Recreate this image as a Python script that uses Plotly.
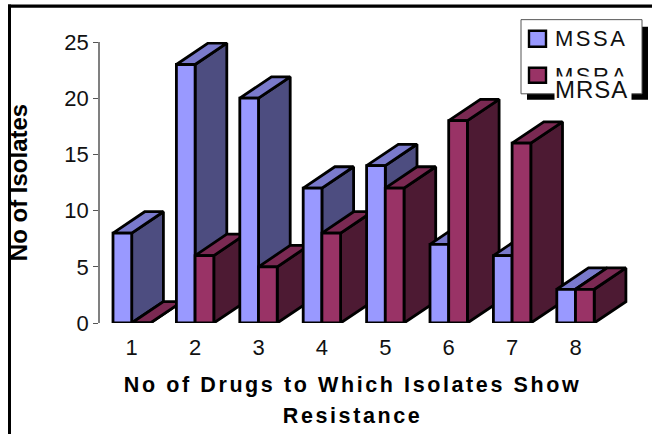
import plotly.graph_objects as go

categories = [1, 2, 3, 4, 5, 6, 7, 8]
mssa = [8, 23, 20, 12, 14, 7, 6, 3]
mrsa = [0, 6, 5, 8, 12, 18, 16, 3]
y_ticks = [0, 5, 10, 15, 20, 25]

BAR_W = 0.295
DEPTH_X = 0.5
DEPTH_Y = 1.9
MSSA_COL = ("#9999FF", "#4D4D80", "#7A7ACC")
MRSA_COL = ("#993366", "#4D1A33", "#7A2952")
LINE_W = 2.8

fig = go.Figure()


def face(xs, ys, color):
    fig.add_trace(go.Scatter(
        x=xs + xs[:1], y=ys + ys[:1], mode="lines", fill="toself", fillcolor=color,
        line=dict(color="black", width=LINE_W), cliponaxis=False,
        showlegend=False, hoverinfo="skip",
    ))


def box(x0, v, cols):
    x1 = x0 + BAR_W
    face([x1, x1 + DEPTH_X, x1 + DEPTH_X, x1], [0, DEPTH_Y, v + DEPTH_Y, v], cols[1])
    face([x0, x1, x1 + DEPTH_X, x0 + DEPTH_X], [v, v, v + DEPTH_Y, v + DEPTH_Y], cols[2])
    face([x0, x1, x1, x0], [0, 0, v, v], cols[0])


for c, a, b in zip(categories, mssa, mrsa):
    box(c - BAR_W, a, MSSA_COL)
    box(c, b, MRSA_COL)

FONT = "Liberation Sans"
PLOT_W = 545  # plot area runs from x=100 to x=645 so the last box's depth is not clipped
UNIT = 63.4


def px(x):
    return (x - 100) / PLOT_W


def py(y):
    return (322.7 - y) / 280.4


def rect(x0, y0, x1, y1, fill, line=None, w=0):
    return dict(type="rect", xref="paper", yref="paper", x0=px(x0), x1=px(x1), y0=py(y0), y1=py(y1),
                fillcolor=fill, line=dict(color=line or fill, width=w), layer="above")


shapes = [
    rect(8, 5, 652, 8, "black"),
    rect(8, 5, 11, 434, "black"),
    rect(527, 27, 648, 100, "black"),
    rect(521, 20, 642, 94, "white", "#555555", 1),
    rect(529, 31, 546, 47, "#9999FF", "black", 2.4),
    rect(529, 68, 546, 83, "#993366", "black", 2.4),
]


def note(text, x, y, size, bg=None, width=None, height=None):
    return dict(text=text, xref="paper", yref="paper", x=px(x), y=py(y), xanchor="left", yanchor="middle",
                showarrow=False, font=dict(family=FONT, size=size, color="#111111"), align="left",
                bgcolor=bg, borderpad=0, width=width, height=height)


annotations = [
    note("MSSA", 554, 39, 22),
    note("MSRA", 554, 76, 22),
    note("MRSA", 554, 89, 24, "white", 76, 24),
    dict(text='<span style="font-size:21.5px">No of Drugs to Which Isolates Show<br>Resistance</span>',
         xref="paper", yref="paper", x=px(352), y=py(400), xanchor="center", yanchor="middle",
         showarrow=False, font=dict(size=24, family=FONT, weight="bold", color="black")),
]

fig.update_layout(
    width=652, height=434, autosize=False,
    margin=dict(l=100, r=652 - 100 - PLOT_W, t=42.3, b=111.3, pad=0),
    paper_bgcolor="white", plot_bgcolor="white",
    font=dict(family=FONT, color="#111111"),
    shapes=shapes, annotations=annotations,
    xaxis=dict(
        range=[0.5, 0.5 + PLOT_W / UNIT], tickmode="array", tickvals=categories,
        ticktext=[str(c) for c in categories], automargin=False,
        showgrid=False, zeroline=False, showline=False, ticks="outside", ticklen=5,
        tickcolor="rgba(0,0,0,0)", tickfont=dict(size=22, family=FONT),
    ),
    yaxis=dict(
        range=[0, 25], tickmode="array", tickvals=y_ticks, automargin=False,
        showgrid=False, zeroline=False, showline=True, linecolor="#808080", linewidth=1.5,
        ticks="outside", ticklen=5, tickcolor="#555555", tickfont=dict(size=22, family=FONT),
        title=dict(text="No of Isolates", font=dict(size=24, family=FONT, weight="bold", color="black"), standoff=30),
    ),
)

post = """
document.documentElement.style.margin='0';
document.body.style.margin='0';
document.body.style.overflow='hidden';
var s=document.createElement('style');
s.textContent='.annotation-text{letter-spacing:2.5px} .annotation[data-index="2"] .annotation-text{letter-spacing:1px} .annotation[data-index="3"] .annotation-text{letter-spacing:2.6px}';
document.head.appendChild(s);
"""
fig.write_html("out.html", post_script=post, config={"displayModeBar": False})
